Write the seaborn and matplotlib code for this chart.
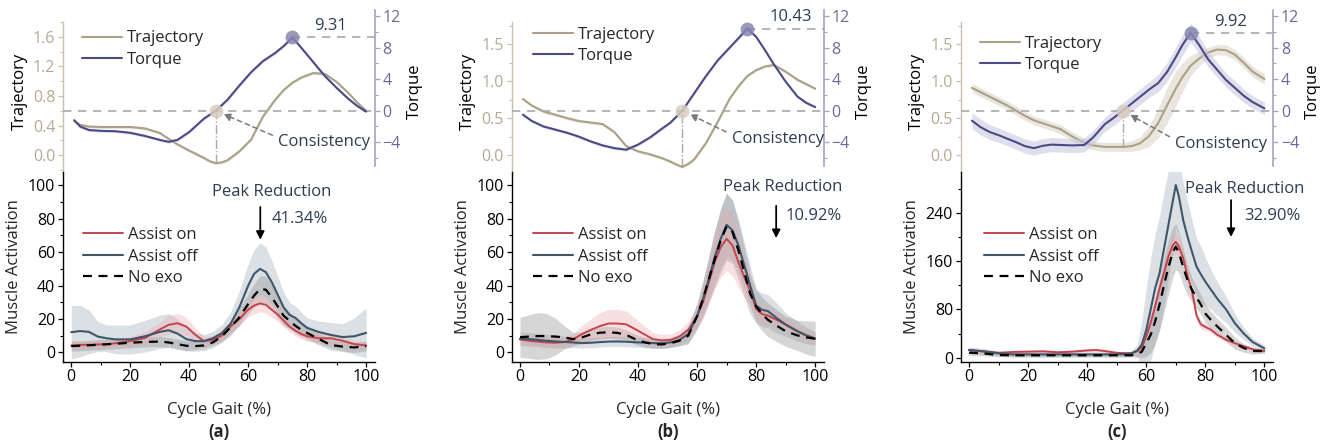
import numpy as np
import pandas as pd
import matplotlib
matplotlib.use("Agg")
import matplotlib.pyplot as plt
import seaborn as sns
from matplotlib.ticker import FixedLocator, FormatStrFormatter

sns.set_theme(style="ticks")
plt.rcParams['font.family'] = ['Open Sans', 'DejaVu Sans']
plt.rcParams['axes.unicode_minus'] = True

# ---------------- upper panels: joint trajectory and assist torque ----------------
a_top_x = [1, 3, 6, 10, 15, 20, 25, 30, 33, 36, 40, 45, 47, 49, 51, 53, 57, 61, 65, 69, 72, 75, 78, 82, 86, 90,
           94, 97, 100]
a_traj = [0.46, 0.41, 0.385, 0.38, 0.38, 0.38, 0.36, 0.30, 0.22, 0.145, 0.06, -0.04, -0.085, -0.11, -0.10,
          -0.07, 0.05, 0.21, 0.52, 0.74, 0.88, 0.98, 1.05, 1.11, 1.10, 0.99, 0.84, 0.71, 0.60]
a_torque = [-1.2, -2.0, -2.45, -2.55, -2.6, -2.8, -3.2, -3.7, -3.95, -3.7, -2.7, -1.0, -0.5, 0.0, 0.7, 1.4,
            3.2, 4.9, 6.3, 7.3, 8.2, 9.31, 8.0, 6.2, 4.4, 2.9, 1.5, 0.6, -0.1]
a_traj_sd = 0.02
a_torque_sd = 0.18

b_top_x = [1, 4, 8, 12, 16, 20, 24, 28, 32, 36, 40, 44, 48, 51, 53, 55, 57, 59, 63, 67, 71, 74, 77, 80, 83, 86,
           90, 94, 97, 100]
b_traj = [0.76, 0.67, 0.59, 0.545, 0.50, 0.46, 0.44, 0.42, 0.31, 0.12, 0.05, 0.01, -0.04, -0.09, -0.13, -0.16,
          -0.12, -0.06, 0.16, 0.45, 0.76, 0.93, 1.07, 1.15, 1.20, 1.22, 1.13, 1.02, 0.96, 0.90]
b_torque = [-0.5, -1.3, -2.0, -2.4, -2.8, -3.3, -3.9, -4.4, -4.75, -4.95, -4.3, -3.4, -2.3, -1.5, -0.75, 0.0,
            1.1, 2.2, 4.4, 6.4, 8.0, 9.2, 10.43, 9.4, 7.7, 5.9, 3.7, 1.8, 1.0, 0.47]
b_traj_sd = 0.02
b_torque_sd = 0.18

c_top_x = [1, 4, 7, 10, 13, 16, 19, 22, 25, 28, 31, 35, 39, 42, 46, 49, 52, 55, 58, 61, 64, 67, 70, 72, 75,
           78, 81, 84, 87, 90, 93, 96, 100]
c_traj = [0.91, 0.85, 0.79, 0.73, 0.67, 0.60, 0.53, 0.47, 0.43, 0.39, 0.35, 0.25, 0.17, 0.13, 0.11, 0.11, 0.11,
          0.12, 0.16, 0.26, 0.43, 0.67, 0.90, 1.04, 1.21, 1.31, 1.39, 1.43, 1.42, 1.36, 1.25, 1.13, 1.03]
c_torque = [-1.26, -2.1, -2.7, -3.1, -3.55, -4.0, -4.5, -4.75, -4.45, -4.3, -4.35, -4.4, -4.35, -3.4, -1.7, -0.9,
            0.0, 0.9, 1.8, 2.7, 3.5, 4.9, 6.8, 8.2, 9.92, 8.3, 6.5, 5.2, 3.9, 2.9, 1.9, 1.1, 0.3]
c_traj_sd = [0.06, 0.06, 0.06, 0.06, 0.06, 0.06, 0.06, 0.06, 0.06, 0.06, 0.06, 0.06, 0.06, 0.06, 0.06, 0.06,
             0.06, 0.07, 0.09, 0.14, 0.20, 0.24, 0.24, 0.20, 0.14, 0.10, 0.07, 0.07, 0.07, 0.07, 0.07, 0.07, 0.07]
c_torque_sd = [1.0, 1.0, 0.95, 0.9, 0.9, 0.9, 0.9, 0.9, 0.9, 0.9, 0.9, 0.9, 0.9, 0.9, 0.9, 0.95, 1.0, 1.0, 1.0,
               1.0, 1.1, 1.2, 1.3, 1.3, 1.2, 1.1, 1.0, 0.95, 0.9, 0.9, 0.85, 0.8, 0.8]

# ---------------- lower panels: muscle activation ----------------
a_x = [0, 3, 6, 9, 12, 15, 20, 25, 30, 33, 36, 39, 42, 45, 48, 51, 54, 57, 60, 62, 64, 66, 68, 70, 72, 74, 76,
       78, 80, 84, 88, 92, 96, 100]
a_on = [4.2, 4.5, 4.6, 4.8, 5.0, 5.5, 6.8, 8.7, 13.7, 16.5, 17.5, 15.5, 10.7, 6.8, 7.5, 10, 15.5, 20, 25.6, 28,
        29.33, 28.5, 25.5, 22.7, 19, 15.5, 13, 11, 9.7, 8.5, 8.5, 7.0, 5.0, 4.2]
a_off = [12.1, 12.8, 12.3, 9.5, 8.5, 7.8, 7.8, 9.7, 12.3, 13.3, 11.3, 8.0, 6.8, 6.8, 8.5, 11.5, 17, 27, 40, 47,
         50, 48, 42, 34.6, 27, 22.5, 20.7, 17.5, 14.7, 12.2, 10.5, 9.2, 9.7, 11.7]
a_noexo = [3.8, 4.0, 4.3, 4.6, 4.9, 5.2, 5.8, 6.3, 6.5, 6.0, 5.0, 4.0, 3.8, 4.2, 6.0, 9.5, 15, 21, 29, 34,
           38, 37.5, 33, 27.6, 22, 19, 16, 13.5, 11.7, 8, 4.5, 3.5, 3.0, 3.8]
a_on_sd = [2, 2, 2, 2, 2, 2.5, 3, 3.5, 4.5, 5.5, 6, 5.5, 4, 3, 2.5, 3, 3.5, 4, 4.5, 5, 5, 5, 4.5, 4, 3.5, 3, 3,
           3, 3, 3, 3, 2.5, 2, 2]
a_off_sd = [16, 15.5, 13, 9, 8, 8.5, 8.7, 9.5, 10, 10, 9, 7, 5, 4, 4, 5, 7, 10, 13, 14.5, 15.5, 15, 13, 11, 9,
            7.5, 7, 6.5, 6, 6.5, 7.5, 8, 11, 15]
a_noexo_sd = [3, 3, 3, 3, 3, 3, 3, 3, 3, 3, 3, 3, 3, 3, 3, 3.5, 4, 5, 6, 7, 8, 8, 7.5, 7, 6, 5, 4.5, 4, 4, 3.5,
              3, 3, 3, 3]

b_x = [0, 3, 6, 9, 12, 15, 18, 21, 24, 27, 30, 33, 36, 39, 42, 45, 48, 51, 54, 57, 60, 62, 64, 66, 68, 70, 72,
       74, 76, 78, 80, 82, 84, 87, 90, 94, 97, 100]
b_on = [7.8, 7.0, 6.5, 6.0, 5.8, 6.2, 7.8, 11, 13.5, 15.7, 17.3, 17.3, 16.8, 14, 11, 8, 7.2, 7.5, 9.5, 13.5,
        21.7, 30, 42, 54, 63, 67.97, 64, 54, 45, 37, 26, 23, 22, 19.5, 16.7, 12.7, 10.2, 8.3]
b_off = [8.2, 8.0, 7.5, 7.0, 6.6, 6.3, 6.0, 5.6, 5.8, 6.2, 6.5, 6.6, 6.4, 6.1, 5.9, 5.6, 5.5, 6.0, 7.5, 11,
         21.7, 32, 44, 57, 68, 76.3, 73, 64, 52, 40, 28, 25.5, 24.7, 20.5, 16.7, 12.7, 10.2, 8.3]
b_noexo = [9.1, 9.5, 9.8, 9.8, 9.5, 9.0, 8.0, 9.0, 10.8, 11.8, 12.1, 11.7, 10.5, 8.0, 6.2, 5.0, 4.8, 5.5, 7.0,
           10, 21.7, 32, 44, 56, 67, 75.3, 72, 61, 48, 35, 27.6, 23, 19.5, 16, 12.7, 10.2, 9.0, 8.2]
b_on_sd = [3, 3, 3, 3, 3, 3, 3.5, 5, 6.5, 8, 8.5, 8.5, 8, 6.5, 5, 4, 3.5, 3.5, 4, 5, 7, 10, 13, 16, 18, 19, 18,
           15, 12, 9, 6, 5, 5, 4.5, 4, 3.5, 3, 3]
b_off_sd = [4, 4, 4, 4, 4, 3.5, 3, 3, 3, 3, 3, 3, 3, 3, 3, 3, 3, 3, 3.5, 5, 7, 10, 13, 16, 18, 19, 18, 16, 14,
            12, 10, 10, 10, 9, 7, 6, 5, 4]
b_noexo_sd = [12, 13, 14, 13.5, 11, 7, 4, 3.5, 3.5, 3.5, 3.5, 3.5, 3, 3, 3, 2.5, 2.5, 2.5, 3, 5, 8, 11, 14, 17,
              19, 20, 19, 17, 15, 12, 10, 10, 10, 9.5, 9, 9, 10, 10.5]

c_x = [0, 5, 10, 15, 20, 25, 30, 35, 40, 43, 46, 50, 53, 55, 57, 58.5, 60, 61.5, 63, 64.5, 66, 67.5, 69, 70, 71,
       72.5, 74, 75.5, 77, 78.5, 80, 82, 84, 87, 90, 93, 96, 100]
c_on = [12.7, 10.5, 8, 9.5, 10, 10.5, 9, 10, 12, 12.7, 11, 8, 7.5, 7.2, 11, 17, 35, 58, 85, 115, 140, 168, 186,
        191.9, 185, 165, 135, 110, 70, 55, 51, 46, 38, 30, 24, 19, 14, 11]
c_off = [12.7, 10.5, 7.2, 5.5, 5.5, 5.5, 5.5, 5.5, 5.5, 5.5, 5.5, 5.5, 6, 7.2, 12, 22, 45.8, 80, 115, 140, 180,
         220, 260, 286, 268, 228, 200, 175, 151, 138, 126, 112, 98, 80, 57, 40, 26, 15.4]
c_noexo = [8.3, 7, 4.4, 4, 4, 4, 4, 4, 4, 4, 4, 4, 4, 4, 6, 10, 24, 38, 60, 88, 120, 150, 175, 184, 175, 150,
           128, 112, 100, 88, 73, 62, 52, 38, 24, 16, 11, 11]
c_on_sd = [4, 3, 3, 3, 3, 3, 3, 3, 3, 3, 3, 3, 3, 3, 4, 5, 7, 9, 11, 13, 15, 16, 17, 17, 16, 15, 13, 11, 9, 7,
           6, 5, 5, 4, 4, 3, 3, 3]
c_off_sd = [5, 5, 4, 4, 4, 4, 4, 4, 4, 4, 4, 4, 4, 4, 10, 40, 70, 85, 90, 95, 95, 90, 80, 70, 65, 62, 58, 52,
            48, 46, 40, 32, 28, 22, 15, 10, 7, 5]
c_noexo_sd = [5, 4, 3, 3, 3, 3, 3, 3, 3, 3, 3, 3, 3, 3, 5, 10, 22, 30, 38, 42, 45, 45, 42, 38, 34, 30, 25, 20,
              18, 16, 15, 14, 13, 12, 10, 7, 5, 4]

# ---------------- labels ----------------
panel_tags = ['(a)', '(b)', '(c)']
reduction_labels = ['41.34%', '10.92%', '32.90%']
traj_ticks = [[0.0, 0.4, 0.8, 1.2, 1.6], [0.0, 0.5, 1.0, 1.5], [0.0, 0.5, 1.0, 1.5]]
traj_minor = [[-0.2, 0.2, 0.6, 1.0, 1.4, 1.8], [-0.25, 0.25, 0.75, 1.25, 1.75], [-0.25, 0.25, 0.75, 1.25, 1.75]]
torque_ticks = [-4, 0, 4, 8, 12]
torque_minor = [-6, -2, 2, 6, 10]
act_ticks = [[0, 20, 40, 60, 80, 100], [0, 20, 40, 60, 80, 100], [0, 80, 160, 240]]
act_minor = [[10, 30, 50, 70, 90], [10, 30, 50, 70, 90], [40, 120, 200, 280]]
act_ylim = [(-5.4, 107.9), (-5.4, 107.9), (-6.3, 307.6)]

# annotation placement (data coordinates)
peak_title_xy = [(67.8, 96), (89.0, 99.2), (93.3, 279)]
peak_pct_xy = [(68.0, 80), (89.8, 81.3), (93.0, 234.6)]
peak_arrow = [(64.1, 87, 67.4), (86.8, 87.7, 68.4), (88.7, 261, 200)]
cons_text_xy = [(70.2, -3.94), (71.8, -3.55), (69.8, -4.2)]
peak_val_xy = [(87.8, 10.8), (91.9, 11.9), (88.5, 11.3)]

# ---------------- styling ----------------
TRAJ = '#aba189'
TORQ = '#4c4a84'
TRAJ_TXT = '#b5ab95'
TORQ_TXT = '#6c6a9c'
TRAJ_SPINE = '#c9c0ad'
TORQ_SPINE = '#a4a3c3'
ON = '#c2444e'
OFF = '#3e566a'
NOTE = '#2d3c51'
REF = '#a9a9a9'

FS = 12
TFS = 11.5
W, H = 1326, 446
XLIM = (-2.8, 103.0)
TRAJ_LIM = (-0.23, 1.965)
TORQ_SPAN = 20.57
TRAJ_REF = 0.6

lefts = [63, 511.7, 960.7]
rights = [375, 824, 1273.3]
top_px = (10, 172)
bot_px = (172, 361.5)

top_sets = [
    (a_top_x, a_traj, a_torque, a_traj_sd, a_torque_sd),
    (b_top_x, b_traj, b_torque, b_traj_sd, b_torque_sd),
    (c_top_x, c_traj, c_torque, c_traj_sd, c_torque_sd),
]
bot_sets = [
    (a_x, a_on, a_off, a_noexo, a_on_sd, a_off_sd, a_noexo_sd),
    (b_x, b_on, b_off, b_noexo, b_on_sd, b_off_sd, b_noexo_sd),
    (c_x, c_on, c_off, c_noexo, c_on_sd, c_off_sd, c_noexo_sd),
]
top_legend_anchor = [(0.061, 0.874), (0.067, 0.897), (0.062, 0.841)]
bot_legend_anchor = [(0.064, 0.709), (0.068, 0.709), (0.0745, 0.709)]

fig = plt.figure(figsize=(W / 100, H / 100), dpi=100)


def drop_legend(ax):
    leg = ax.get_legend()
    if leg is not None:
        leg.remove()


for i in range(3):
    l, r = lefts[i], rights[i]
    ax_t = fig.add_axes([l / W, (H - top_px[1]) / H, (r - l) / W, (top_px[1] - top_px[0]) / H])
    ax_b = fig.add_axes([l / W, (H - bot_px[1]) / H, (r - l) / W, (bot_px[1] - bot_px[0]) / H])
    ax_q = ax_t.twinx()

    # ---- upper: trajectory (left axis) and torque (right axis)
    tx, traj, torq, traj_sd, torq_sd = top_sets[i]
    tx = np.asarray(tx, float)
    traj = np.asarray(traj, float)
    torq = np.asarray(torq, float)
    traj_sd = np.broadcast_to(np.asarray(traj_sd, float), traj.shape)
    torq_sd = np.broadcast_to(np.asarray(torq_sd, float), torq.shape)

    ax_t.fill_between(tx, traj - traj_sd, traj + traj_sd, color='#d9d3c4', alpha=0.55, lw=0)
    sns.lineplot(x=tx, y=traj, ax=ax_t, color=TRAJ, lw=1.5, errorbar=None, sort=False)
    ax_q.fill_between(tx, torq - torq_sd, torq + torq_sd, color='#c4c3de', alpha=0.55, lw=0)
    sns.lineplot(x=tx, y=torq, ax=ax_q, color=TORQ, lw=1.5, errorbar=None, sort=False)
    drop_legend(ax_t)
    drop_legend(ax_q)

    ax_t.set_xlim(*XLIM)
    ax_q.set_xlim(*XLIM)
    ax_t.set_ylim(*TRAJ_LIM)
    frac = (TRAJ_REF - TRAJ_LIM[0]) / (TRAJ_LIM[1] - TRAJ_LIM[0])
    q_lo = -frac * TORQ_SPAN
    ax_q.set_ylim(q_lo, q_lo + TORQ_SPAN)

    # reference line: trajectory 0.6 aligned with zero torque
    ax_q.axhline(0, color=REF, lw=1.2, ls=(0, (5, 4)), zorder=1)

    # zero-crossing of torque ("Consistency")
    k = int(np.argmin(np.abs(torq[5:-5]))) + 5
    cx = tx[k]
    ax_t.vlines(cx, np.interp(cx, tx, traj), TRAJ_REF, colors=REF, lw=1.0, ls='-.', zorder=1)
    ax_q.plot([cx], [0], 'o', ms=10, color='#d8cdbf', alpha=0.85, zorder=5, mec='none')
    ax_q.annotate('Consistency', xy=(cx, 0), xytext=cons_text_xy[i], fontsize=FS, color=NOTE,
                  ha='left', va='center',
                  arrowprops=dict(arrowstyle='-|>', color='#7a7a7a', lw=1.1, ls=(0, (3, 2.5)),
                                  shrinkA=2, shrinkB=6, mutation_scale=11, relpos=(0, 0.75)))

    # torque peak
    p = int(np.argmax(torq))
    ax_q.plot([tx[p]], [torq[p]], 'o', ms=10, color='#8787b1', alpha=0.85, zorder=5, mec='none')
    ax_q.hlines(torq[p], tx[p], XLIM[1], colors=REF, lw=1.2, ls=(0, (5, 4)), zorder=1)
    ax_q.text(peak_val_xy[i][0], peak_val_xy[i][1], f'{torq[p]:.2f}', fontsize=FS, color=NOTE,
              ha='center', va='center')

    # axes styling for the upper panel
    for s in ['top', 'bottom', 'right']:
        ax_t.spines[s].set_visible(False)
    for s in ['top', 'bottom', 'left']:
        ax_q.spines[s].set_visible(False)
    ax_t.spines['left'].set_color(TRAJ_SPINE)
    ax_t.spines['left'].set_linewidth(1.0)
    ax_t.spines['left'].set_bounds(TRAJ_LIM[0], 1.8)
    ax_q.spines['right'].set_color(TORQ_SPINE)
    ax_q.spines['right'].set_linewidth(1.2)
    ax_q.spines['right'].set_bounds(-7.0, q_lo + TORQ_SPAN)
    ax_t.set_xticks([])
    ax_q.set_xticks([])
    ax_t.yaxis.set_major_locator(FixedLocator(traj_ticks[i]))
    ax_t.yaxis.set_minor_locator(FixedLocator(traj_minor[i]))
    ax_t.yaxis.set_major_formatter(FormatStrFormatter('%.1f'))
    ax_q.yaxis.set_major_locator(FixedLocator(torque_ticks))
    ax_q.yaxis.set_minor_locator(FixedLocator(torque_minor))
    ax_t.tick_params(axis='y', which='major', direction='out', length=3.5, width=0.9, color=TRAJ_SPINE,
                     labelcolor=TRAJ_TXT, labelsize=TFS, pad=2)
    ax_t.tick_params(axis='y', which='minor', direction='out', length=2, width=0.8, color=TRAJ_SPINE)
    ax_q.tick_params(axis='y', which='major', direction='out', length=3.5, width=0.9, color=TORQ_SPINE,
                     labelcolor=TORQ_TXT, labelsize=TFS, pad=2)
    ax_q.tick_params(axis='y', which='minor', direction='out', length=2, width=0.8, color=TORQ_SPINE)
    ax_t.set_ylabel('Trajectory', fontsize=FS, color='black', labelpad=4)
    ax_q.set_ylabel('Torque', fontsize=FS, color='black', labelpad=4)
    ax_t.set_facecolor('none')
    ax_q.set_facecolor('none')

    h_traj = plt.Line2D([], [], color=TRAJ, lw=1.5)
    h_torq = plt.Line2D([], [], color=TORQ, lw=1.5)
    ax_q.legend([h_traj, h_torq], ['Trajectory', 'Torque'], loc='upper left',
                bbox_to_anchor=top_legend_anchor[i], frameon=False, fontsize=FS, handlelength=2.4,
                handletextpad=0.3, labelspacing=0.33, borderpad=0, borderaxespad=0)

    # ---- lower: muscle activation
    bx, on, off, noexo, on_sd, off_sd, noexo_sd = [np.asarray(v, float) for v in bot_sets[i]]
    ax_b.fill_between(bx, off - off_sd, off + off_sd, color='#b9c3cc', alpha=0.5, lw=0)
    ax_b.fill_between(bx, noexo - noexo_sd, noexo + noexo_sd, color='#8a8a8a', alpha=0.35, lw=0)
    ax_b.fill_between(bx, on - on_sd, on + on_sd, color='#eba7ac', alpha=0.35, lw=0)

    df = pd.DataFrame({'x': bx, 'on': on, 'off': off, 'noexo': noexo})
    sns.lineplot(data=df, x='x', y='on', ax=ax_b, color=ON, lw=1.4, errorbar=None)
    sns.lineplot(data=df, x='x', y='off', ax=ax_b, color=OFF, lw=1.5, errorbar=None)
    sns.lineplot(data=df, x='x', y='noexo', ax=ax_b, color='black', lw=1.6, errorbar=None,
                 linestyle=(0, (4, 3)))
    drop_legend(ax_b)

    ax_b.set_xlim(*XLIM)
    ax_b.set_ylim(*act_ylim[i])
    sns.despine(ax=ax_b)
    for s in ['left', 'bottom']:
        ax_b.spines[s].set_color('black')
        ax_b.spines[s].set_linewidth(1.0)
    ax_b.set_xticks([0, 20, 40, 60, 80, 100])
    ax_b.xaxis.set_minor_locator(FixedLocator([10, 30, 50, 70, 90]))
    ax_b.yaxis.set_major_locator(FixedLocator(act_ticks[i]))
    ax_b.yaxis.set_minor_locator(FixedLocator(act_minor[i]))
    ax_b.tick_params(which='major', direction='out', length=3.5, width=0.9, color='black',
                     labelcolor='black', labelsize=TFS, pad=2)
    ax_b.tick_params(which='minor', direction='out', length=2, width=0.8, color='black')
    ax_b.set_xlabel('Cycle Gait (%)', fontsize=FS, labelpad=12)
    ax_b.set_ylabel('Muscle Activation', fontsize=FS, labelpad=4)
    ax_b.set_facecolor('none')
    ax_b.text(0.5, -0.372, panel_tags[i], transform=ax_b.transAxes, ha='center', va='center',
              fontsize=FS, fontweight='bold')

    h_on = plt.Line2D([], [], color=ON, lw=1.4)
    h_off = plt.Line2D([], [], color=OFF, lw=1.5)
    h_no = plt.Line2D([], [], color='black', lw=1.6, ls=(0, (4, 3)))
    ax_b.legend([h_on, h_off, h_no], ['Assist on', 'Assist off', 'No exo'], loc='upper left',
                bbox_to_anchor=bot_legend_anchor[i], frameon=False, fontsize=FS, handlelength=2.4,
                handletextpad=0.3, labelspacing=0.33, borderpad=0, borderaxespad=0)

    # peak reduction note
    ax_b.text(*peak_title_xy[i], 'Peak Reduction', fontsize=FS, color=NOTE, ha='center', va='center',
              clip_on=False)
    ax_b.text(*peak_pct_xy[i], reduction_labels[i], fontsize=FS, color=NOTE, ha='left', va='center',
              clip_on=False)
    ax_x, y0, y1 = peak_arrow[i]
    ax_b.annotate('', xy=(ax_x, y1), xytext=(ax_x, y0),
                  arrowprops=dict(arrowstyle='-|>', color='black', lw=1.3, mutation_scale=12,
                                  shrinkA=0, shrinkB=0))

fig.savefig('out.png', dpi=100)
